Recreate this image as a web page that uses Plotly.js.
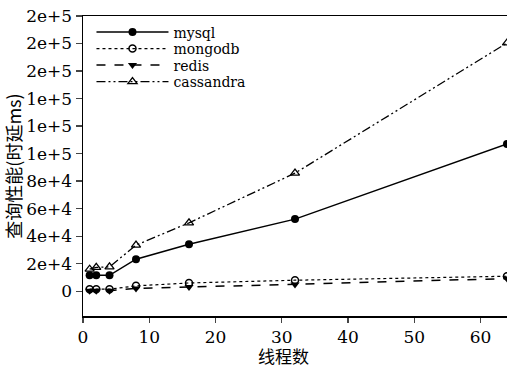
<!DOCTYPE html>
<html>
<head>
<meta charset="utf-8">
<script src="https://cdn.plot.ly/plotly-3.0.1.min.js"></script>
<style>html,body{margin:0;padding:0;background:#fff;}#chart{width:507px;height:369px;}</style>
</head>
<body>
<div id="chart"></div>
<script>
const threads = [1, 2, 4, 8, 16, 32, 64];
const mysql = [11600, 11600, 11600, 23300, 34200, 52400, 107000];
const mongodb = [1500, 1500, 1500, 3900, 6000, 8000, 10900];
const redis = [400, 400, 400, 2000, 3100, 4900, 9200];
const cassandra = [16000, 17300, 17700, 33500, 49700, 85800, 180400];
const yTickVals = [0, 20000, 40000, 60000, 80000, 100000, 120000, 140000, 160000, 180000, 200000];
const yTickText = ["0", "2e+4", "4e+4", "6e+4", "8e+4", "1e+5", "1e+5", "1e+5", "2e+5", "2e+5", "2e+5"];
const xTickVals = [0, 10, 20, 30, 40, 50, 60];
const xTitle = "线程数";
const yTitle = "查询性能(时延ms)";

const serif = "DejaVu Serif, Liberation Serif, Times New Roman, serif";
const cjk = "Noto Sans CJK SC";

const traces = [
  {x: threads, y: mysql, name: "mysql", mode: "lines+markers", legend: "legend",
   line: {color: "#000", width: 1.5, dash: "solid"},
   marker: {symbol: "circle", size: 8, color: "#000"}},
  {x: threads, y: mongodb, name: "mongodb", mode: "lines+markers", legend: "legend2",
   line: {color: "#000", width: 1.2, dash: "dot"},
   marker: {symbol: "circle-open", size: 7, color: "#000", line: {width: 1.5}}},
  {x: threads, y: redis, name: "redis", mode: "lines+markers", legend: "legend3",
   line: {color: "#000", width: 1.5, dash: "dash"},
   marker: {symbol: "triangle-down", size: 8, color: "#000"}},
  {x: threads, y: cassandra, name: "cassandra", mode: "lines+markers", legend: "legend4",
   line: {color: "#000", width: 1.3, dash: "9px,3px,2px,3px,2px,3px"},
   marker: {symbol: "triangle-up-open", size: 8, color: "#000", line: {width: 1.3}}}
];

function leg(y) {
  return {x: 0.02, y: y, xanchor: "left", yanchor: "middle",
          bgcolor: "rgba(0,0,0,0)", borderwidth: 0,
          font: {family: serif, size: 14, color: "#000"},
          itemwidth: 72};
}

const layout = {
  width: 507, height: 369,
  margin: {l: 83, r: 0, t: 16, b: 53},
  paper_bgcolor: "#fff", plot_bgcolor: "#fff",
  showlegend: true,
  legend: leg(0.945), legend2: leg(0.89), legend3: leg(0.835), legend4: leg(0.78),
  xaxis: {range: [0, 64], tickvals: xTickVals, ticks: "outside", ticklen: 5, tickwidth: 1.3,
          showline: true, linecolor: "#000", linewidth: 1.5, mirror: true,
          showgrid: false, zeroline: false,
          tickfont: {family: serif, size: 17, color: "#000"}},
  yaxis: {range: [-18000, 200000], tickvals: yTickVals, ticktext: yTickText,
          ticks: "outside", ticklen: 6, tickwidth: 1.3,
          showline: true, linecolor: "#000", linewidth: 1.5,
          showgrid: false, zeroline: false,
          tickfont: {family: serif, size: 17, color: "#000"},
          title: {text: yTitle, font: {family: cjk, size: 18, color: "#000"}, standoff: 0}},
  annotations: [
    {text: xTitle, xref: "paper", yref: "paper", x: 0.472, y: -0.133,
     xanchor: "center", yanchor: "middle", showarrow: false, borderpad: 0,
     font: {family: cjk, size: 17, color: "#000"}}
  ]
};

Plotly.newPlot("chart", traces, layout, {displayModeBar: false, staticPlot: true});
</script>
</body>
</html>
